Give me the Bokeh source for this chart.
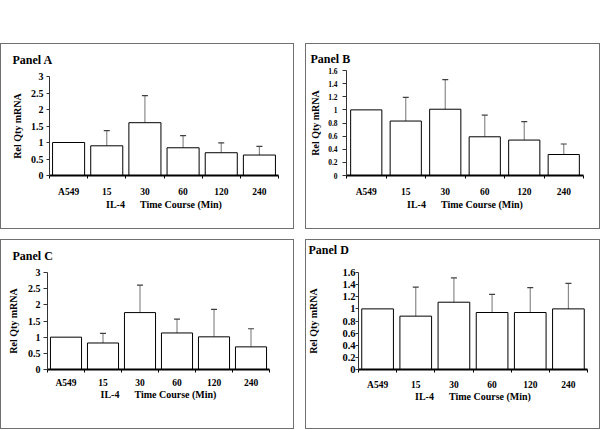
from bokeh.plotting import figure
from bokeh.models import (ColumnDataSource, Range1d, FixedTicker, Whisker, TeeHead,
                          CustomJSTickFormatter, Spacer, Column, Row, Title)
from bokeh.embed import file_html
from bokeh.resources import INLINE

# ---------------- data ----------------
categories = ["A549", "15", "30", "60", "120", "240"]
x_axis_title = "IL-4" + "\u00a0" * 6 + "Time Course (Min)"
y_axis_title = "Rel Qty mRNA"

ticks_0_3 = [0, 0.5, 1, 1.5, 2, 2.5, 3]
ticks_0_16 = [0, 0.2, 0.4, 0.6, 0.8, 1, 1.2, 1.4, 1.6]

panel_a_mean = [1.00, 0.90, 1.60, 0.84, 0.69, 0.62]
panel_a_upper = [None, 1.36, 2.42, 1.21, 0.99, 0.88]

panel_b_mean = [1.00, 0.83, 1.01, 0.59, 0.54, 0.32]
panel_b_upper = [None, 1.19, 1.46, 0.92, 0.82, 0.48]

panel_c_mean = [1.00, 0.82, 1.76, 1.13, 1.01, 0.70]
panel_c_upper = [None, 1.12, 2.61, 1.56, 1.86, 1.26]

panel_d_mean = [1.00, 0.88, 1.11, 0.94, 0.94, 1.00]
panel_d_upper = [None, 1.36, 1.51, 1.24, 1.35, 1.42]

FONT = "Liberation Serif"


def make_panel(title, mean, upper, yticks, w, h, fl, ft, fr, fb, title_x, title_standoff,
               title_lift, ytick_size, ytick_out, ytick_standoff, ylabel_standoff,
               xtick_standoff, xlabel_standoff, bar_width):
    n = len(categories)
    xs = [i + 0.5 for i in range(n)]
    p = figure(width=w, height=h, x_range=Range1d(0, n), y_range=Range1d(0, yticks[-1]),
               output_backend="svg", toolbar_location=None,
               min_border_left=fl, min_border_right=w - fr,
               min_border_top=ft, min_border_bottom=h - fb)
    p.outline_line_color = None
    p.background_fill_color = None
    p.border_fill_color = None
    p.xgrid.grid_line_color = None
    p.ygrid.grid_line_color = None
    p.styles = {"box-shadow": "inset 0 0 0 1px #707070", "background-color": "white"}

    src = ColumnDataSource(dict(x=xs, top=mean, cat=categories))
    p.vbar(x="x", top="top", bottom=0, width=bar_width, source=src,
           fill_color="white", line_color="black", line_width=1)

    ex = [xs[i] for i in range(n) if upper[i] is not None]
    elo = [mean[i] for i in range(n) if upper[i] is not None]
    ehi = [upper[i] for i in range(n) if upper[i] is not None]
    esrc = ColumnDataSource(dict(x=ex, lower=elo, upper=ehi))
    wk = Whisker(base="x", lower="lower", upper="upper", source=esrc, dimension="height",
                 line_color="#8a8a8a", line_width=1.2, lower_head=None,
                 upper_head=TeeHead(size=6, line_color="#404040", line_width=1.2))
    p.add_layout(wk)

    # blank spacer next to the frame: lifts the panel title upward
    if title_lift > 0:
        p.add_layout(Title(text="\u00a0", text_font_size="8px", text_color="white",
                           standoff=title_lift), "above")

    # panel title
    p.title.text = title
    p.title.align = "left"
    p.title.vertical_align = "top"
    p.title.offset = title_x - fl
    p.title.standoff = title_standoff
    p.title.text_font = FONT
    p.title.text_font_size = "12px"
    p.title.text_font_style = "bold"
    p.title.text_color = "black"

    # x axis
    xa = p.below[0]
    xa.ticker = FixedTicker(ticks=xs, minor_ticks=list(range(n + 1)))
    xa.major_label_overrides = {xs[i]: categories[i] for i in range(n)}
    xa.major_tick_out = 0
    xa.major_tick_in = 0
    xa.minor_tick_out = 3
    xa.minor_tick_in = 0
    xa.minor_tick_line_color = "black"
    xa.axis_line_color = "black"
    xa.axis_line_width = 2
    xa.major_label_standoff = xtick_standoff
    xa.major_label_text_font = FONT
    xa.major_label_text_font_size = "9.5px"
    xa.major_label_text_font_style = "bold"
    xa.major_label_text_color = "black"
    xa.axis_label = x_axis_title
    xa.axis_label_standoff = xlabel_standoff
    xa.axis_label_text_font = FONT
    xa.axis_label_text_font_size = "10px"
    xa.axis_label_text_font_style = "bold"
    xa.axis_label_text_color = "black"

    # y axis
    ya = p.left[0]
    ya.ticker = FixedTicker(ticks=yticks, minor_ticks=[])
    ya.formatter = CustomJSTickFormatter(code="return String(Math.round(tick*10)/10);")
    ya.major_tick_out = ytick_out
    ya.major_tick_in = 0
    ya.major_tick_line_color = "#333333"
    ya.axis_line_color = "#333333"
    ya.axis_line_width = 1
    ya.major_label_standoff = ytick_standoff
    ya.major_label_text_font = FONT
    ya.major_label_text_font_size = ytick_size
    ya.major_label_text_font_style = "bold"
    ya.major_label_text_color = "black"
    ya.axis_label = y_axis_title
    ya.axis_label_standoff = ylabel_standoff
    ya.axis_label_text_font = FONT
    ya.axis_label_text_font_size = "10px"
    ya.axis_label_text_font_style = "bold"
    ya.axis_label_text_color = "black"
    return p


pA = make_panel("Panel A", panel_a_mean, panel_a_upper, ticks_0_3, 294, 186,
                49, 33, 278, 132, 12, 16, 0, "10px", 3, 3, 5, 8, -1, 0.84)
pB = make_panel("Panel B", panel_b_mean, panel_b_upper, ticks_0_16, 295, 186,
                41, 27, 278, 132, 5, 6, 0, "7.5px", 4, 5, 4, 8, -1, 0.79)
pC = make_panel("Panel C", panel_c_mean, panel_c_upper, ticks_0_3, 294, 190,
                47, 33, 269, 130, 12, 16, 0, "10px", 4, 3, 6, 5, -2, 0.84)
pD = make_panel("Panel D", panel_d_mean, panel_d_upper, ticks_0_16, 295, 190,
                51, 33, 282, 130, 1, 0, 3, "10.5px", 3, 0, 20, 7, -2, 0.83)

root = Column(children=[
    Spacer(width=600, height=43),
    Row(children=[Column(children=[pA]), Spacer(width=11, height=186), Column(children=[pB])]),
    Spacer(width=600, height=10),
    Row(children=[Column(children=[pC]), Spacer(width=11, height=190), Column(children=[pD])]),
])

open("out.html", "w").write(file_html(root, INLINE))
